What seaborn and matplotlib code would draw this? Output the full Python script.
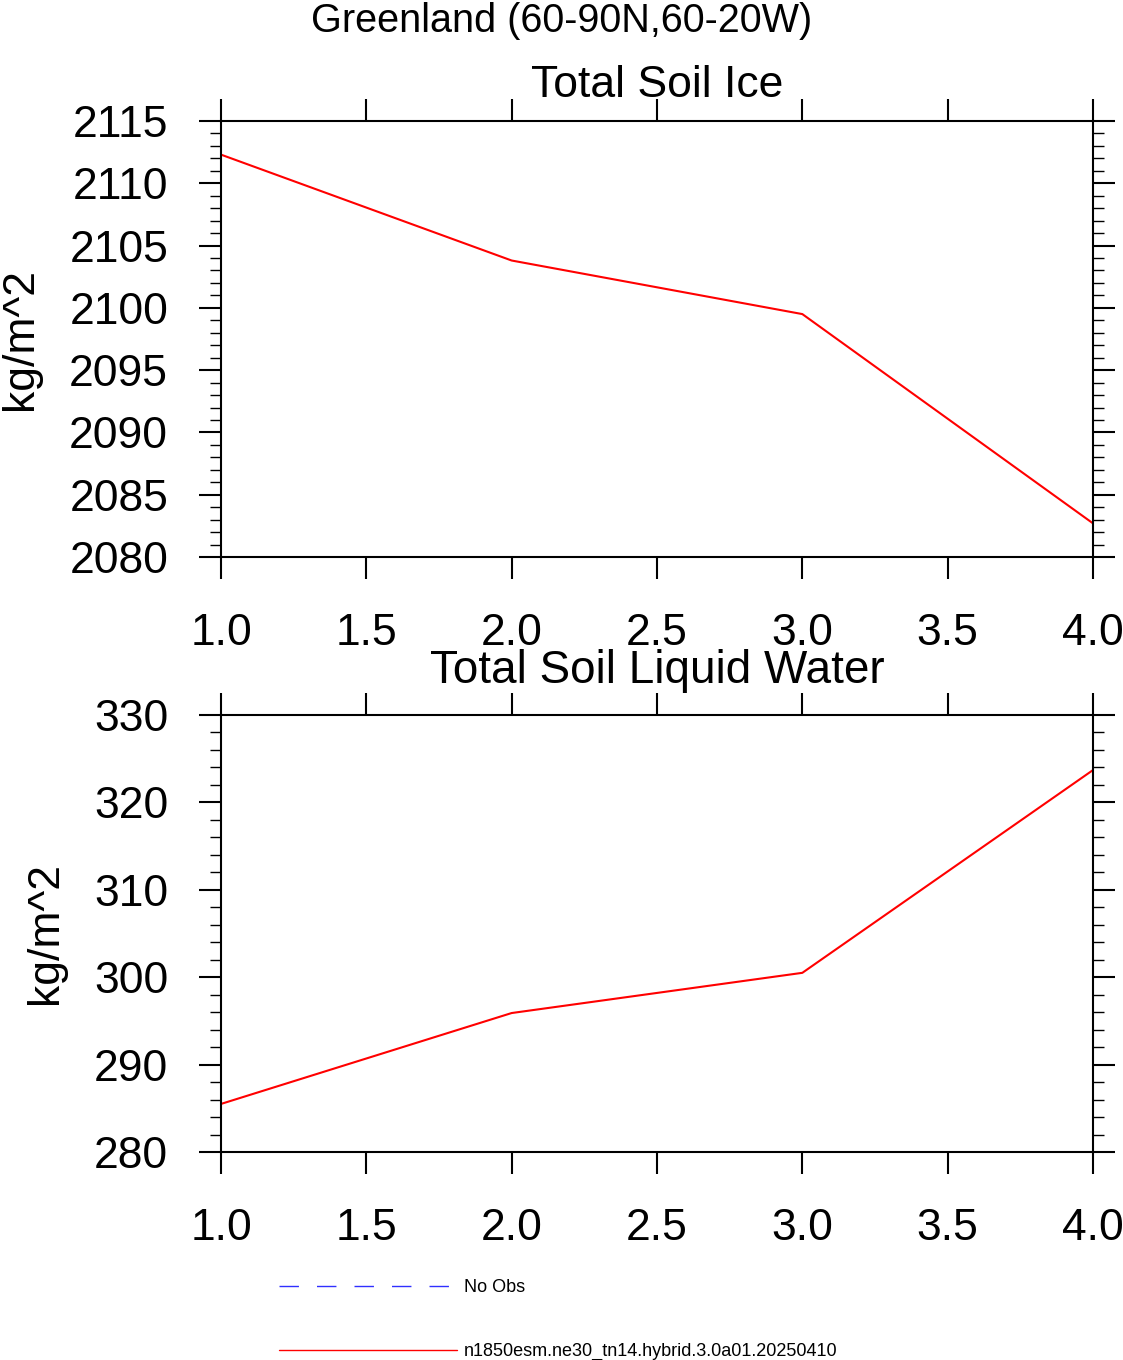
import numpy as np
import pandas as pd
import matplotlib
matplotlib.use("Agg")
import matplotlib.pyplot as plt
from matplotlib.ticker import MultipleLocator, FormatStrFormatter
from matplotlib.lines import Line2D
import seaborn as sns

x_vals = [1.0, 2.0, 3.0, 4.0]
soil_ice = [2112.3, 2103.8, 2099.5, 2082.7]
soil_liq = [285.5, 295.9, 300.5, 323.7]
x_ticks = [1.0, 1.5, 2.0, 2.5, 3.0, 3.5, 4.0]
ice_ticks = [2080, 2085, 2090, 2095, 2100, 2105, 2110, 2115]
liq_ticks = [280, 290, 300, 310, 320, 330]
suptitle = "Greenland (60-90N,60-20W)"
titles = ["Total Soil Ice", "Total Soil Liquid Water"]
ylabel = "kg/m^2"
legend_labels = ["No Obs", "n1850esm.ne30_tn14.hybrid.3.0a01.20250410"]

sns.set_style("white")
plt.rcParams['font.family'] = ['Liberation Sans', 'DejaVu Sans']
plt.rcParams['text.color'] = 'black'
plt.rcParams['axes.labelcolor'] = 'black'
plt.rcParams['xtick.color'] = 'black'
plt.rcParams['ytick.color'] = 'black'

W, H = 1123, 1360
fig = plt.figure(figsize=(W / 100, H / 100), dpi=100)

def fx(px):
    return px / W

def fy(py):
    return 1 - py / H

ax1 = fig.add_axes([fx(221), fy(557), fx(1093) - fx(221), fy(121) - fy(557)])
ax2 = fig.add_axes([fx(221), fy(1152), fx(1093) - fx(221), fy(715) - fy(1152)])

specs = [
    (ax1, soil_ice, ice_ticks, 1, titles[0], 17, 32),
    (ax2, soil_liq, liq_ticks, 2, titles[1], 23, 33),
]
for ax, vals, yt, minor, title, tpad, tsize in specs:
    df = pd.DataFrame({"x": x_vals, "y": vals})
    sns.lineplot(data=df, x="x", y="y", ax=ax, color="red", linewidth=1.5)
    ax.set_xlim(x_ticks[0], x_ticks[-1])
    ax.set_ylim(yt[0], yt[-1])
    ax.set_xticks(x_ticks)
    ax.set_yticks(yt)
    ax.xaxis.set_major_formatter(FormatStrFormatter("%.1f"))
    ax.yaxis.set_minor_locator(MultipleLocator(minor))
    ax.tick_params(axis="both", which="major", direction="out", length=16, width=1.5,
                   labelsize=32, top=True, right=True, bottom=True, left=True,
                   colors="black")
    ax.tick_params(axis="x", which="major", pad=24)
    ax.tick_params(axis="y", which="major", pad=22)
    ax.tick_params(axis="y", which="minor", direction="out", length=8, width=1.0,
                   left=True, right=True, colors="black")
    ax.tick_params(axis="x", which="minor", bottom=False, top=False)
    for s in ax.spines.values():
        s.set_linewidth(1.5)
        s.set_color("black")
    ax.set_xlabel("")
    ax.set_ylabel(ylabel, fontsize=32, labelpad=20, color="black")
    ax.set_title(title, fontsize=tsize, y=1.0, pad=tpad, color="black")

fig.text(0.5, fy(32), suptitle, ha="center", va="baseline", fontsize=28.5,
         color="black")

handles = [
    Line2D([], [], color="#3030ff", linewidth=1.0, linestyle=(0, (14, 13))),
    Line2D([], [], color="red", linewidth=1.0),
]
fig.legend(handles, legend_labels, loc="upper left",
           bbox_to_anchor=(fx(279), fy(1279)), frameon=False,
           fontsize=13, handlelength=9.85, handletextpad=0.4,
           labelspacing=2.62, borderpad=0, borderaxespad=0,
           labelcolor="black")

fig.savefig("out.png", dpi=100)
